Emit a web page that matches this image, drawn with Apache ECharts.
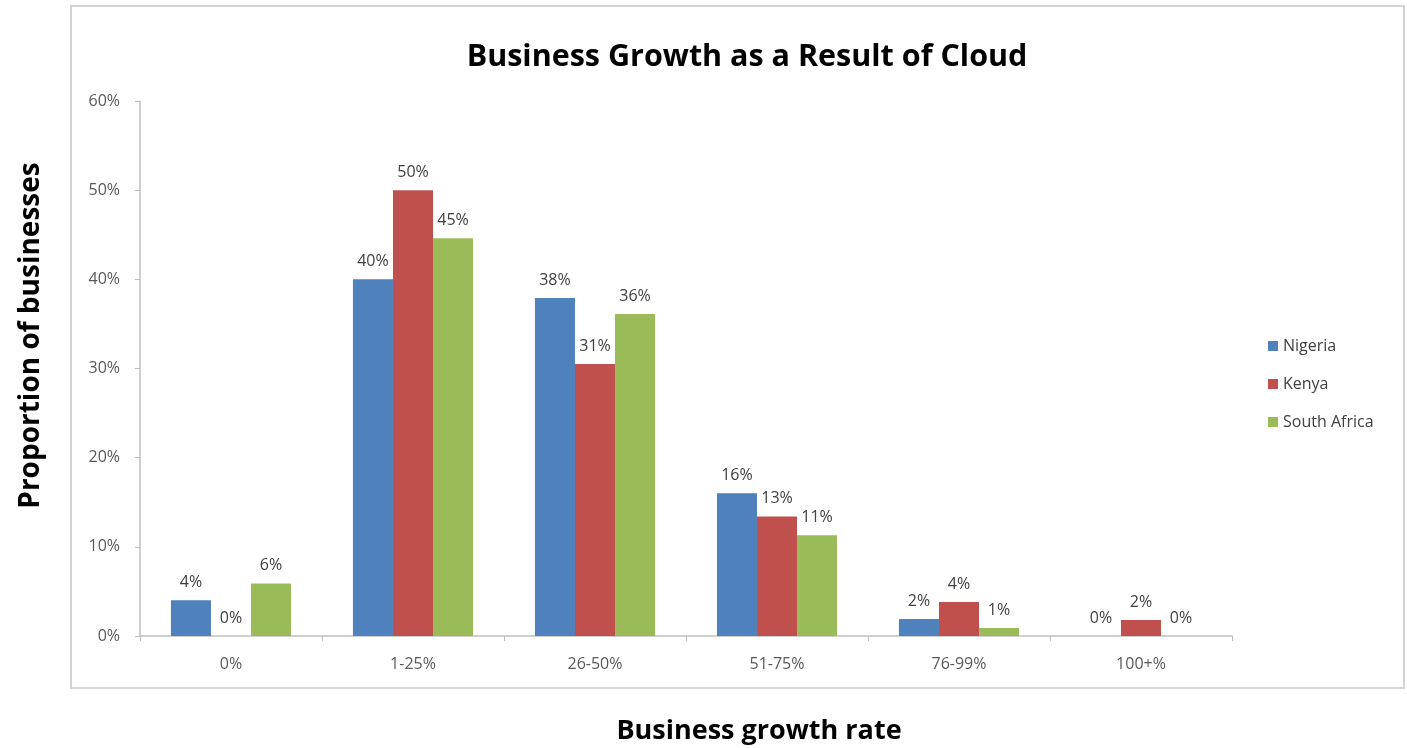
<!DOCTYPE html>
<html>
<head>
<meta charset="utf-8">
<script src="https://cdn.jsdelivr.net/npm/echarts@6/dist/echarts.min.js"></script>
<style>
html,body{margin:0;padding:0;background:#fff;}
#chart{width:1407px;height:748px;}
</style>
</head>
<body>
<div id="chart"></div>
<script>
const categories = ['0%', '1-25%', '26-50%', '51-75%', '76-99%', '100+%'];
const nigeria = [4.0, 40.0, 37.9, 16.0, 1.9, 0];
const kenya = [0, 50.0, 30.5, 13.4, 3.8, 1.8];
const southAfrica = [5.9, 44.6, 36.1, 11.3, 0.9, 0];
const yTicks = [0, 10, 20, 30, 40, 50, 60];

const FONT = '"Open Sans", "Liberation Sans", sans-serif';
const chart = echarts.init(document.getElementById('chart'), null, {renderer: 'canvas'});

function mkSeries(name, data, color) {
  return {
    name: name,
    type: 'bar',
    data: data,
    barGap: '0%',
    barCategoryGap: '34%',
    itemStyle: {color: color},
    label: {
      show: true,
      position: 'top',
      distance: 10,
      color: '#404040',
      fontFamily: FONT,
      fontSize: 16,
      formatter: p => Math.round(p.value) + '%'
    }
  };
}

chart.setOption({
  backgroundColor: '#ffffff',
  animation: false,
  graphic: [{
    type: 'rect',
    shape: {x: 71, y: 6, width: 1333, height: 682},
    style: {fill: 'none', stroke: '#d4d4d4', lineWidth: 2},
    z: -10
  }],
  title: {
    text: 'Business Growth as a Result of Cloud',
    left: 742,
    textAlign: 'center',
    top: 37,
    textStyle: {fontFamily: FONT, fontWeight: 'bold', fontSize: 30.5, color: '#000'}
  },
  legend: {
    orient: 'vertical',
    left: 1263,
    top: 333,
    itemWidth: 10,
    itemHeight: 10,
    itemGap: 22,
    icon: 'rect',
    textStyle: {fontFamily: FONT, fontSize: 16, color: '#404040'},
    data: ['Nigeria', 'Kenya', 'South Africa']
  },
  grid: {left: 140, right: 175, top: 101, bottom: 112, containLabel: false, outerBoundsMode: 'none'},
  xAxis: {
    type: 'category',
    data: categories,
    name: 'Business growth rate',
    nameLocation: 'middle',
    nameGap: 82,
    nameTextStyle: {fontFamily: FONT, fontWeight: 'bold', fontSize: 27, color: '#000', padding: [0, 0, 0, 146]},
    axisLine: {lineStyle: {color: '#bfbfbf', width: 1.5}},
    axisTick: {show: true, length: 5, lineStyle: {color: '#bfbfbf'}},
    axisLabel: {fontFamily: FONT, fontSize: 16, color: '#595959', margin: 20}
  },
  yAxis: {
    type: 'value',
    min: 0,
    max: 60,
    interval: 10,
    name: 'Proportion of businesses',
    nameLocation: 'middle',
    nameGap: 95,
    nameRotate: 90,
    nameTextStyle: {fontFamily: FONT, fontWeight: 'bold', fontSize: 28, color: '#000', padding: [0, 0, 0, 66]},
    axisLine: {show: true, lineStyle: {color: '#bfbfbf', width: 1.5}},
    axisTick: {show: true, length: 5, lineStyle: {color: '#bfbfbf'}},
    splitLine: {show: false},
    axisLabel: {
      fontFamily: FONT, fontSize: 16, color: '#595959', margin: 20,
      formatter: v => yTicks.includes(v) ? v + '%' : ''
    }
  },
  series: [
    mkSeries('Nigeria', nigeria, '#4f81bd'),
    mkSeries('Kenya', kenya, '#c0504d'),
    mkSeries('South Africa', southAfrica, '#9bbb59')
  ]
});
</script>
</body>
</html>
